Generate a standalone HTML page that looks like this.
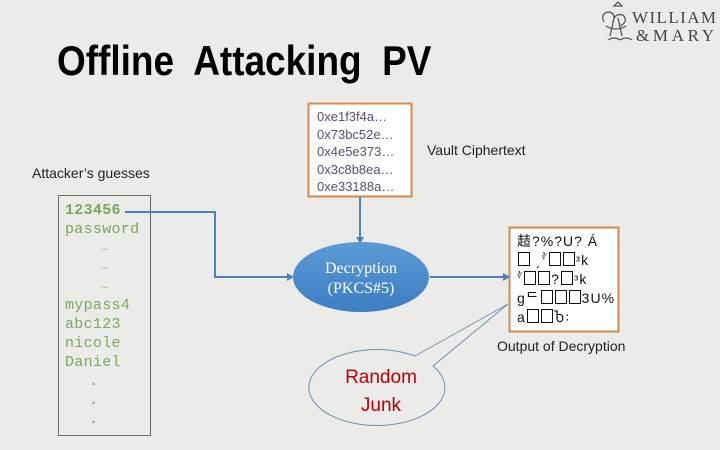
<!DOCTYPE html>
<html><head><meta charset="utf-8"><style>
html,body{margin:0;padding:0}
body{width:720px;height:450px;position:relative;overflow:hidden;background:#ebebea;font-family:"Liberation Sans",sans-serif}
.abs{position:absolute}
.title{left:57px;top:37px;font-size:42px;font-weight:bold;color:#000;white-space:pre;transform:scaleX(0.88);transform-origin:left top}
.mono{font-family:"Liberation Mono",monospace;color:#7aa85a;font-size:15px;line-height:19px;letter-spacing:0.3px}
.sq{display:inline-block;width:10px;height:12px;border:1px solid #111;vertical-align:-1px;margin:0 1px}
.out div{height:19px;line-height:19px;overflow:visible}
.out sup{font-size:8px;line-height:0}
</style></head><body>
<div class="abs title">Offline  Attacking  PV</div>

<svg class="abs" style="left:0;top:0" width="720" height="450">
  <g stroke="#555" fill="none" stroke-width="1.3">
    <path d="M604 22 q-4 -8 4 -10 q6 0 6 6 q4 -6 10 -2 q4 6 -4 10 M614 18 l-4 18 M618 18 l4 18 M606 26 q10 6 20 0 M608 40 q6 -4 12 0 M620 40 q6 -4 12 0 M614 6 l4 -4 l4 4 z"/>
  </g>
  <text x="632" y="23" font-family="Liberation Serif" font-size="17" fill="#444" textLength="84">WILLIAM</text>
  <text x="636" y="41" font-family="Liberation Serif" font-size="17" fill="#444" textLength="78">&amp;MARY</text>

  <rect x="58.5" y="195.5" width="92" height="240" fill="none" stroke="#6b6b6b" stroke-width="1"/>
  <rect x="308.5" y="103.5" width="103" height="93" fill="#fff" stroke="#d58a4e" stroke-width="2"/>
  <rect x="509.5" y="227.5" width="109" height="104" fill="#fff" stroke="#d58a4e" stroke-width="2"/>

  <polyline points="125,212 215,212 215,277 289,277" fill="none" stroke="#4f81bd" stroke-width="2"/>
  <polygon points="294,277 287,273 287,281" fill="#4f81bd"/>
  <line x1="360" y1="197" x2="360" y2="238" stroke="#4f81bd" stroke-width="2"/>
  <polygon points="360,244 356,237 364,237" fill="#4f81bd"/>
  <line x1="430" y1="277" x2="504" y2="277" stroke="#4f81bd" stroke-width="2"/>
  <polygon points="510,277 503,273 503,281" fill="#4f81bd"/>

  <defs><linearGradient id="g" x1="0" y1="0" x2="0" y2="1"><stop offset="0" stop-color="#5b9bd5"/><stop offset="1" stop-color="#3c7dc4"/></linearGradient></defs>
  <ellipse cx="361" cy="277" rx="68" ry="35" fill="url(#g)"/>
  <text x="361" y="273" text-anchor="middle" font-family="Liberation Serif" font-size="16" fill="#fff">Decryption</text>
  <text x="361" y="293" text-anchor="middle" font-family="Liberation Serif" font-size="16" fill="#fff">(PKCS#5)</text>

  <path d="M415,356 L508,304 L433,366 A68,38 0 1 1 415,356 Z" fill="#ebebea" stroke="#6f8fb0" stroke-width="1"/>
  <text x="381" y="383" text-anchor="middle" font-size="19" fill="#c00000">Random</text>
  <text x="381" y="411" text-anchor="middle" font-size="19" fill="#c00000">Junk</text>
</svg>

<div class="abs" style="left:32px;top:165px;font-size:14px;color:#222">Attacker’s guesses</div>
<div class="abs mono" style="left:65px;top:201px;width:80px">
<div style="font-weight:bold">123456</div>
<div>password</div>
<div style="text-align:center;font-size:11px">…</div>
<div style="text-align:center;font-size:11px">…</div>
<div style="text-align:center;font-size:11px">…</div>
<div>mypass4</div><div>abc123</div><div>nicole</div><div>Daniel</div>
<div style="padding-left:24px">.</div><div style="padding-left:24px">.</div><div style="padding-left:24px">.</div>
</div>

<div class="abs" style="left:317px;top:108px;font-size:13px;line-height:17.5px;color:#5e4a78">0xe1f3f4a…<br>0x73bc52e…<br>0x4e5e373…<br>0x3c8b8ea…<br>0xe33188a…</div>
<div class="abs" style="left:427px;top:142px;font-size:14px;color:#222">Vault Ciphertext</div>

<div class="abs out" style="left:517px;top:232px;font-size:14px;color:#111;font-family:'Liberation Sans','Noto Sans CJK SC',sans-serif;white-space:nowrap;letter-spacing:1px">
<div>趌?%?U? Á</div>
<div><span class="sq"></span> ͵<sup>∛</sup><span class="sq"></span><span class="sq"></span>ᵌk</div>
<div><sup>∛</sup><span class="sq"></span><span class="sq"></span>?<span class="sq"></span>ᵌk</div>
<div>gᄃ<span class="sq"></span><span class="sq"></span><span class="sq"></span>3U%</div>
<div>a<span class="sq"></span><span class="sq"></span>Ⴆ꞉</div>
</div>
<div class="abs" style="left:497px;top:338px;font-size:14px;color:#222">Output of Decryption</div>
</body></html>
